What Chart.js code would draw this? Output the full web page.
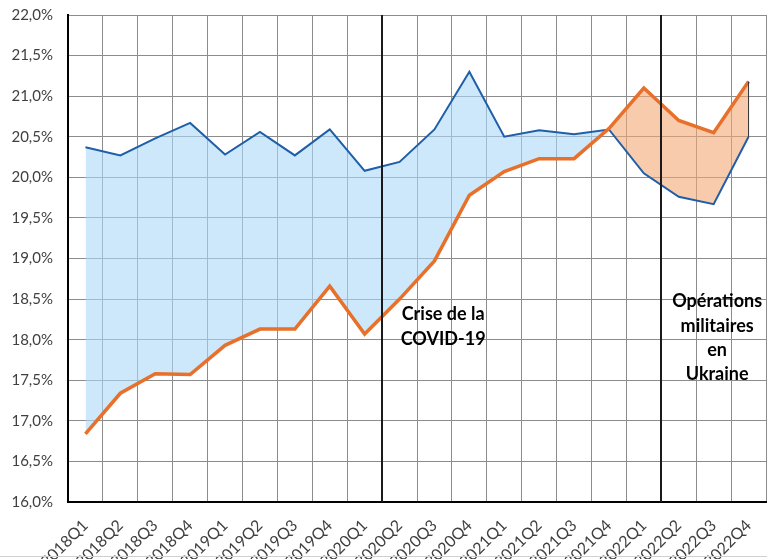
<!DOCTYPE html>
<html>
<head>
<meta charset="utf-8">
<script src="https://cdn.jsdelivr.net/npm/chart.js@4"></script>
<style>
html,body{margin:0;padding:0;background:#fff;overflow:hidden;}
#wrap{position:relative;width:767px;height:559px;}
#frame{position:absolute;left:0;top:556px;width:767px;height:1px;background:#d0d0d0;}
</style>
</head>
<body>
<div id="wrap">
<canvas id="c" width="767" height="559"></canvas>
<div id="frame"></div>
</div>
<script>
const categories = ["2018Q1","2018Q2","2018Q3","2018Q4","2019Q1","2019Q2","2019Q3","2019Q4","2020Q1","2020Q2","2020Q3","2020Q4","2021Q1","2021Q2","2021Q3","2021Q4","2022Q1","2022Q2","2022Q3","2022Q4"];
const blueSeries = [20.37,20.27,20.48,20.67,20.28,20.56,20.27,20.59,20.08,20.19,20.59,21.30,20.50,20.58,20.53,20.59,20.05,19.76,19.67,20.50];
const orangeSeries = [16.84,17.34,17.58,17.57,17.93,18.13,18.13,18.66,18.07,18.50,18.97,19.78,20.07,20.23,20.23,20.60,21.10,20.70,20.55,21.18];
const yTicks = {min:16, max:22, step:0.5};
const eventLines = [8.5, 16.5]; // between 2020Q1/2020Q2 and 2022Q1/2022Q2
const annotations = [
  {lines:["Crise de la","COVID-19"], x:10.25, y:18.31},
  {lines:["Opérations","militaires","en","Ukraine"], x:18.1, y:18.47}
];

const overlay = {
  id:'overlay',
  afterDatasetsDraw(chart){
    const {ctx, chartArea:a, scales:{x,y}} = chart;
    ctx.save();
    const last = categories.length-1;
    ctx.strokeStyle = '#333';
    ctx.lineWidth = 1;
    ctx.beginPath();
    ctx.moveTo(x.getPixelForValue(last), y.getPixelForValue(blueSeries[last]));
    ctx.lineTo(x.getPixelForValue(last), y.getPixelForValue(orangeSeries[last]));
    ctx.stroke();
    ctx.strokeStyle = '#1a1a1a';
    ctx.lineWidth = 2;
    eventLines.forEach(v=>{
      const px = Math.round(x.getPixelForValue(v));
      ctx.beginPath();
      ctx.moveTo(px, a.top);
      ctx.lineTo(px, a.bottom);
      ctx.stroke();
    });
    ctx.fillStyle = '#000';
    ctx.font = 'bold 18px Lato';
    ctx.textAlign = 'center';
    ctx.textBaseline = 'middle';
    annotations.forEach(an=>{
      const px = x.getPixelForValue(an.x);
      const py = y.getPixelForValue(an.y);
      an.lines.forEach((t,i)=>ctx.fillText(t, px, py + i*24.3));
    });
    ctx.restore();
  }
};

new Chart(document.getElementById('c'), {
  type:'line',
  data:{
    labels:categories,
    datasets:[
      {
        label:'blue',
        data:blueSeries,
        borderColor:'#1f5ea8',
        borderWidth:2,
        pointRadius:0,
        tension:0,
        fill:{target:1, above:'rgba(172,217,247,0.6)', below:'rgba(243,168,118,0.6)'},
        order:2
      },
      {
        label:'orange',
        data:orangeSeries,
        borderColor:'#e8702a',
        borderWidth:3.5,
        pointRadius:0,
        tension:0,
        fill:false,
        order:1
      }
    ]
  },
  options:{
    responsive:false,
    animation:false,
    devicePixelRatio:1,
    layout:{padding:{top:15,right:1,left:0,bottom:0}},
    plugins:{legend:{display:false}, tooltip:{enabled:false}},
    scales:{
      x:{
        offset:true,
        grid:{offset:true, color:'#8c8c8c', lineWidth:1, drawTicks:false},
        border:{color:'#000', width:2},
        ticks:{minRotation:45, maxRotation:45, autoSkip:false, color:'#404040', font:{family:'Lato', size:16}, padding:14},
        afterFit(s){ s.height = 57; s.paddingLeft = 0; s.paddingRight = 0; }
      },
      y:{
        min:yTicks.min, max:yTicks.max,
        grid:{color:'#8c8c8c', lineWidth:1, drawTicks:false},
        border:{color:'#000', width:2},
        ticks:{stepSize:yTicks.step, color:'#404040', font:{family:'Lato', size:15}, padding:15,
          callback:v=>v.toFixed(1).replace('.',',')+'%'},
        afterFit(s){ s.width = 68; s.paddingTop = 0; s.paddingBottom = 0; }
      }
    }
  },
  plugins:[overlay]
});
</script>
</body>
</html>
